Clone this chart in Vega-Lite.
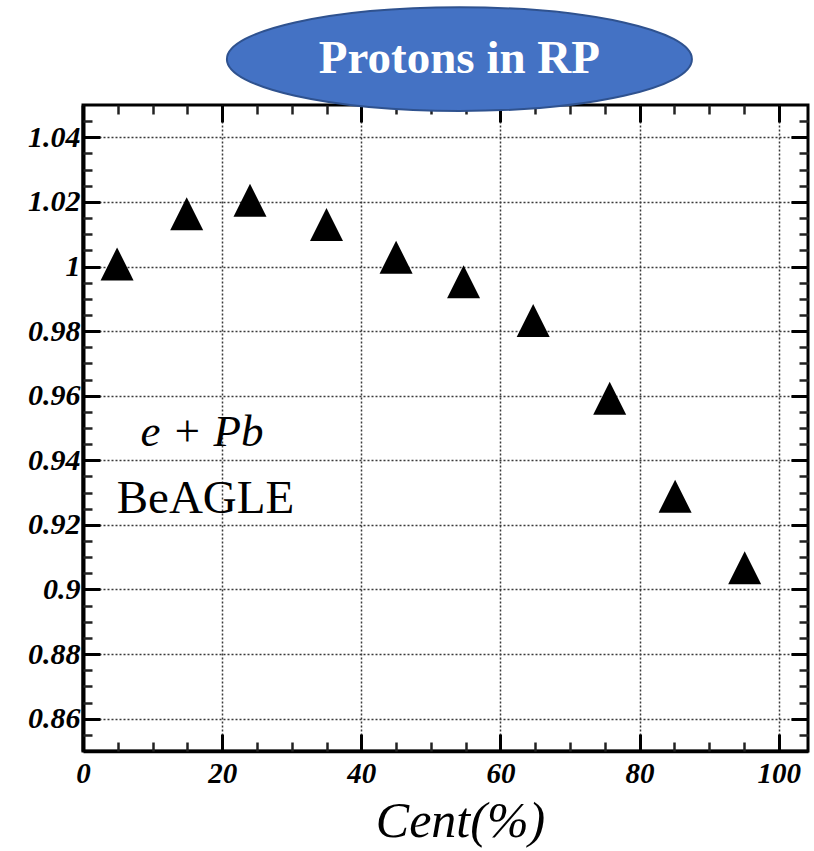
{
  "$schema": "https://vega.github.io/schema/vega-lite/v6.json",
  "autosize": {"type": "none"},
  "width": 725,
  "height": 646,
  "padding": {"left": 83, "top": 105, "right": 6, "bottom": 100},
  "background": "white",
  "config": {"view": {"stroke": "black", "strokeWidth": 3}},
  "datasets": {
    "ratio_vs_cent": [
      {"cent": 4.9, "ratio": 1.0008},
      {"cent": 14.9, "ratio": 1.0163},
      {"cent": 24.0, "ratio": 1.0205},
      {"cent": 35.0, "ratio": 1.013},
      {"cent": 45.0, "ratio": 1.0029},
      {"cent": 54.7, "ratio": 0.9953},
      {"cent": 64.7, "ratio": 0.9833},
      {"cent": 75.7, "ratio": 0.9592},
      {"cent": 85.1, "ratio": 0.9289},
      {"cent": 95.1, "ratio": 0.9067}
    ],
    "badge": [{"label": "Protons in RP", "cent": 54.1, "ratio": 1.0642}],
    "system": [{"label": "e + Pb", "cent": 17.1, "ratio": 0.9443}],
    "generator": [{"label": "BeAGLE", "cent": 17.6, "ratio": 0.9236}]
  },
  "resolve": {"axis": {"x": "independent", "y": "independent"}},
  "layer": [
    {
      "data": {"name": "ratio_vs_cent"},
      "mark": {"type": "point", "shape": "M0,-1L1,1L-1,1Z", "size": 1089, "filled": true, "fill": "black", "opacity": 1, "strokeWidth": 0},
      "encoding": {
        "x": {
          "field": "cent", "type": "quantitative",
          "scale": {"domain": [0, 104.2], "nice": false, "zero": false},
          "axis": {
            "orient": "bottom", "values": [0, 20, 40, 60, 80, 100], "format": "d",
            "ticks": false, "tickSize": 0,
            "domain": true, "domainColor": "black", "domainWidth": 3.5,
            "grid": true, "gridColor": "#3a3a3a", "gridDash": [2, 2], "gridWidth": 1.5,
            "labelFont": "Liberation Serif", "labelFontWeight": "bold", "labelFontStyle": "italic",
            "labelFontSize": 29, "labelColor": "black", "labelPadding": 8,
            "labelFlush": false, "labelOverlap": false,
            "title": "Cent(%)", "titleFont": "Liberation Serif", "titleFontStyle": "italic",
            "titleFontWeight": "normal", "titleFontSize": 50, "titleColor": "black",
            "titleX": 377, "titleY": 85, "titleAlign": "center", "titleBaseline": "alphabetic"
          }
        },
        "y": {
          "field": "ratio", "type": "quantitative",
          "scale": {"domain": [0.85, 1.05], "nice": false, "zero": false},
          "axis": {
            "orient": "left", "values": [0.86, 0.88, 0.9, 0.92, 0.94, 0.96, 0.98, 1, 1.02, 1.04], "format": "~g",
            "ticks": false, "tickSize": 0,
            "domain": true, "domainColor": "black", "domainWidth": 4,
            "grid": true, "gridColor": "#3a3a3a", "gridDash": [2, 2], "gridWidth": 1.5,
            "labelFont": "Liberation Serif", "labelFontWeight": "bold", "labelFontStyle": "italic",
            "labelFontSize": 30, "labelColor": "black", "labelPadding": 3,
            "labelOverlap": false, "title": null
          }
        }
      }
    },
    {
      "data": {"name": "badge"},
      "mark": {
        "type": "point",
        "shape": "M-1,0C-1,-0.1232 -0.5523,-0.223 0,-0.223C0.5523,-0.223 1,-0.1232 1,0C1,0.1232 0.5523,0.223 0,0.223C-0.5523,0.223 -1,0.1232 -1,0Z",
        "size": 216225, "filled": true, "fill": "#4472C4", "stroke": "#2F528F", "strokeWidth": 2, "opacity": 1
      },
      "encoding": {
        "x": {
          "field": "cent", "type": "quantitative",
          "scale": {"domain": [0, 104.2], "nice": false, "zero": false},
          "axis": {"orient": "bottom", "values": [0, 20, 40, 60, 80, 100], "labels": false, "domain": false, "grid": false,
                   "ticks": true, "tickSize": -17, "tickWidth": 3, "tickColor": "black", "title": null}
        },
        "y": {
          "field": "ratio", "type": "quantitative",
          "scale": {"domain": [0.85, 1.05], "nice": false, "zero": false},
          "axis": {"orient": "left", "values": [0.86, 0.88, 0.9, 0.92, 0.94, 0.96, 0.98, 1, 1.02, 1.04], "labels": false, "domain": false, "grid": false,
                   "ticks": true, "tickSize": -17, "tickWidth": 3, "tickColor": "black", "title": null}
        }
      }
    },
    {
      "data": {"name": "badge"},
      "mark": {"type": "text", "font": "Liberation Serif", "fontWeight": "bold", "fontSize": 47, "color": "white", "align": "center", "baseline": "middle"},
      "encoding": {
        "text": {"field": "label"},
        "x": {
          "field": "cent", "type": "quantitative",
          "scale": {"domain": [0, 104.2], "nice": false, "zero": false},
          "axis": {"orient": "bottom", "values": [5, 10, 15, 25, 30, 35, 45, 50, 55, 65, 70, 75, 85, 90, 95], "labels": false, "domain": false, "grid": false,
                   "ticks": true, "tickSize": -9, "tickWidth": 2.5, "tickColor": "#222", "title": null}
        },
        "y": {
          "field": "ratio", "type": "quantitative",
          "scale": {"domain": [0.85, 1.05], "nice": false, "zero": false},
          "axis": {"orient": "left", "values": [0.855, 0.865, 0.87, 0.875, 0.885, 0.89, 0.895, 0.905, 0.91, 0.915, 0.925, 0.93, 0.935, 0.945, 0.95, 0.955, 0.965, 0.97, 0.975, 0.985, 0.99, 0.995, 1.005, 1.01, 1.015, 1.025, 1.03, 1.035, 1.045],
                   "labels": false, "domain": false, "grid": false,
                   "ticks": true, "tickSize": -9, "tickWidth": 2.5, "tickColor": "#222", "title": null}
        }
      }
    },
    {
      "data": {"name": "system"},
      "mark": {"type": "text", "font": "Liberation Serif", "fontStyle": "italic", "fontSize": 45, "color": "black", "align": "center", "baseline": "alphabetic"},
      "encoding": {
        "text": {"field": "label"},
        "x": {
          "field": "cent", "type": "quantitative",
          "scale": {"domain": [0, 104.2], "nice": false, "zero": false},
          "axis": {"orient": "top", "values": [0, 20, 40, 60, 80, 100], "labels": false, "domain": false, "grid": false,
                   "ticks": true, "tickSize": -17, "tickWidth": 3, "tickColor": "black", "title": null}
        },
        "y": {
          "field": "ratio", "type": "quantitative",
          "scale": {"domain": [0.85, 1.05], "nice": false, "zero": false},
          "axis": {"orient": "right", "values": [0.86, 0.88, 0.9, 0.92, 0.94, 0.96, 0.98, 1, 1.02, 1.04], "labels": false, "domain": false, "grid": false,
                   "ticks": true, "tickSize": -17, "tickWidth": 3, "tickColor": "black", "title": null}
        }
      }
    },
    {
      "data": {"name": "generator"},
      "mark": {"type": "text", "font": "Liberation Serif", "fontSize": 47, "color": "black", "align": "center", "baseline": "alphabetic"},
      "encoding": {
        "text": {"field": "label"},
        "x": {
          "field": "cent", "type": "quantitative",
          "scale": {"domain": [0, 104.2], "nice": false, "zero": false},
          "axis": {"orient": "top", "values": [5, 10, 15, 25, 30, 35, 45, 50, 55, 65, 70, 75, 85, 90, 95], "labels": false, "domain": false, "grid": false,
                   "ticks": true, "tickSize": -9, "tickWidth": 2.5, "tickColor": "#222", "title": null}
        },
        "y": {
          "field": "ratio", "type": "quantitative",
          "scale": {"domain": [0.85, 1.05], "nice": false, "zero": false},
          "axis": {"orient": "right", "values": [0.855, 0.865, 0.87, 0.875, 0.885, 0.89, 0.895, 0.905, 0.91, 0.915, 0.925, 0.93, 0.935, 0.945, 0.95, 0.955, 0.965, 0.97, 0.975, 0.985, 0.99, 0.995, 1.005, 1.01, 1.015, 1.025, 1.03, 1.035, 1.045],
                   "labels": false, "domain": false, "grid": false,
                   "ticks": true, "tickSize": -9, "tickWidth": 2.5, "tickColor": "#222", "title": null}
        }
      }
    }
  ]
}
